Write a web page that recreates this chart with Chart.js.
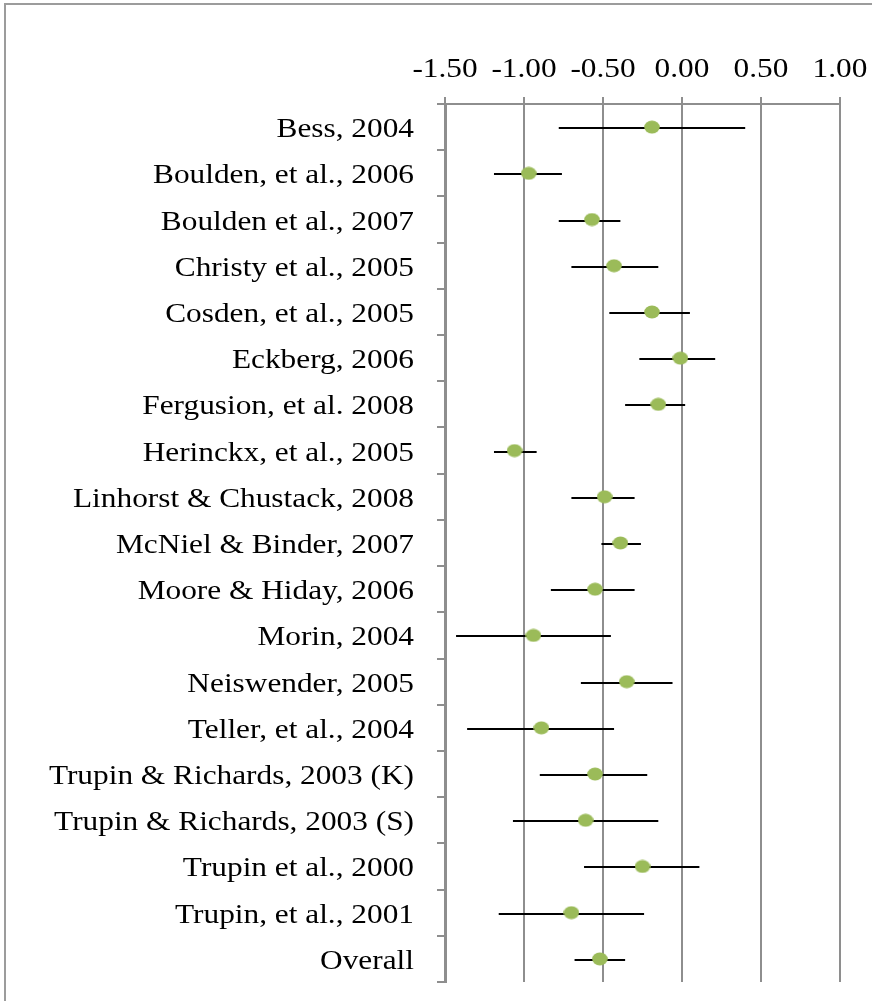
<!DOCTYPE html>
<html lang="en">
<head>
    <meta charset="UTF-8">
    <title>Forest plot</title>
    <script src="https://cdn.jsdelivr.net/npm/chart.js"></script>
    <style>
        body {
            margin: 0;
            background: #fff;
        }
        #wrap {
            position: relative;
            width: 872px;
            height: 1001px;
            overflow: hidden;
        }
        /* grey frame, only top and left edges are visible in the picture */
        #frame {
            position: absolute;
            left: 4px;
            top: 3px;
            width: 900px;
            height: 1100px;
            border-top: 2px solid #9c9c9c;
            border-left: 2px solid #9c9c9c;
        }
        #chart {
            position: absolute;
            left: 0;
            top: 0;
        }
    </style>
</head>
<body>
<div id="wrap">
    <div id="frame"></div>
    <canvas id="chart" width="872" height="1001"></canvas>
</div>

<script>
    // study names, top to bottom
    var studies = [
        'Bess, 2004',
        'Boulden, et al., 2006',
        'Boulden et al., 2007',
        'Christy et al., 2005',
        'Cosden, et al., 2005',
        'Eckberg, 2006',
        'Fergusion, et al. 2008',
        'Herinckx, et al., 2005',
        'Linhorst & Chustack, 2008',
        'McNiel & Binder, 2007',
        'Moore & Hiday, 2006',
        'Morin, 2004',
        'Neiswender, 2005',
        'Teller, et al., 2004',
        'Trupin & Richards, 2003 (K)',
        'Trupin & Richards, 2003 (S)',
        'Trupin et al., 2000',
        'Trupin, et al., 2001',
        'Overall'
    ];

    // effect sizes and confidence limits
    var effect = [-0.19, -0.97, -0.57, -0.43, -0.19, -0.01, -0.15, -1.06, -0.49, -0.39,
                  -0.55, -0.94, -0.35, -0.89, -0.55, -0.61, -0.25, -0.70, -0.52];
    var lower  = [-0.78, -1.19, -0.78, -0.70, -0.46, -0.27, -0.36, -1.19, -0.70, -0.51,
                  -0.83, -1.43, -0.64, -1.36, -0.90, -1.07, -0.62, -1.16, -0.68];
    var upper  = [0.40, -0.76, -0.39, -0.15, 0.05, 0.21, 0.02, -0.92, -0.30, -0.26,
                  -0.30, -0.45, -0.06, -0.43, -0.22, -0.15, 0.11, -0.24, -0.36];

    var xTicks = [-1.5, -1.0, -0.5, 0.0, 0.5, 1.0];

    var labelFont = '27px "Liberation Serif", "Times New Roman", serif';
    var stretch = 1.16; // text in the picture is a bit wide

    // green oval marker
    var dot = document.createElement('canvas');
    dot.width = 16;
    dot.height = 14;
    var dctx = dot.getContext('2d');
    dctx.fillStyle = '#9bbb59';
    dctx.beginPath();
    dctx.ellipse(8, 7, 7.8, 6.5, 0, 0, Math.PI * 2);
    dctx.fill();

    function wideText(ctx, text, x, y, align) {
        ctx.save();
        ctx.translate(x, y);
        ctx.scale(stretch, 1);
        ctx.textAlign = align;
        ctx.textBaseline = 'alphabetic';
        ctx.fillText(text, 0, 0);
        ctx.restore();
    }

    // horizontal confidence interval lines
    var errorBars = {
        id: 'errorBars',
        beforeDatasetsDraw: function (chart) {
            var ctx = chart.ctx;
            var x = chart.scales.x, y = chart.scales.y;
            ctx.save();
            ctx.strokeStyle = '#000';
            ctx.lineWidth = 2;
            for (var i = 0; i < studies.length; i++) {
                var py = Math.round(y.getPixelForValue(i)) + 1;
                ctx.beginPath();
                ctx.moveTo(x.getPixelForValue(lower[i]), py);
                ctx.lineTo(x.getPixelForValue(upper[i]), py);
                ctx.stroke();
            }
            ctx.restore();
        }
    };

    // axis labels drawn by hand so they can be stretched
    var axisLabels = {
        id: 'axisLabels',
        afterDraw: function (chart) {
            var ctx = chart.ctx;
            var x = chart.scales.x, y = chart.scales.y;
            ctx.save();
            ctx.font = labelFont;
            ctx.fillStyle = '#000';
            x.ticks.forEach(function (t) {
                wideText(ctx, t.value.toFixed(2), x.getPixelForValue(t.value), 77, 'center');
            });
            studies.forEach(function (s, i) {
                wideText(ctx, s, 414, y.getPixelForValue(i) + 10, 'right');
            });
            ctx.restore();
        }
    };

    var points = effect.map(function (v, i) {
        return { x: v, y: studies[i] };
    });

    var chart = new Chart(document.getElementById('chart'), {
        type: 'scatter',
        data: {
            datasets: [{
                data: points,
                pointStyle: dot,
                pointRadius: 8,
                pointHoverRadius: 8
            }]
        },
        options: {
            responsive: false,
            animation: false,
            layout: {
                padding: { left: 0, top: 0, right: 32, bottom: 19 }
            },
            plugins: {
                legend: { display: false },
                tooltip: { enabled: false }
            },
            scales: {
                x: {
                    type: 'linear',
                    position: 'top',
                    min: -1.5,
                    max: 1.0,
                    afterBuildTicks: function (scale) {
                        scale.ticks = xTicks.map(function (v) { return { value: v }; });
                    },
                    afterFit: function (scale) { scale.height = 104; },
                    ticks: { display: false },
                    grid: {
                        color: '#8e8e8e',
                        lineWidth: 2,
                        tickLength: 7
                    },
                    border: { color: '#8e8e8e', width: 2 }
                },
                y: {
                    type: 'category',
                    labels: studies,
                    offset: true,
                    afterFit: function (scale) { scale.width = 445; },
                    ticks: { display: false },
                    grid: {
                        offset: true,
                        drawOnChartArea: false,
                        color: '#8e8e8e',
                        lineWidth: 2,
                        tickLength: 8
                    },
                    border: { color: '#8e8e8e', width: 3 }
                }
            }
        },
        plugins: [errorBars, axisLabels]
    });
</script>
</body>
</html>
